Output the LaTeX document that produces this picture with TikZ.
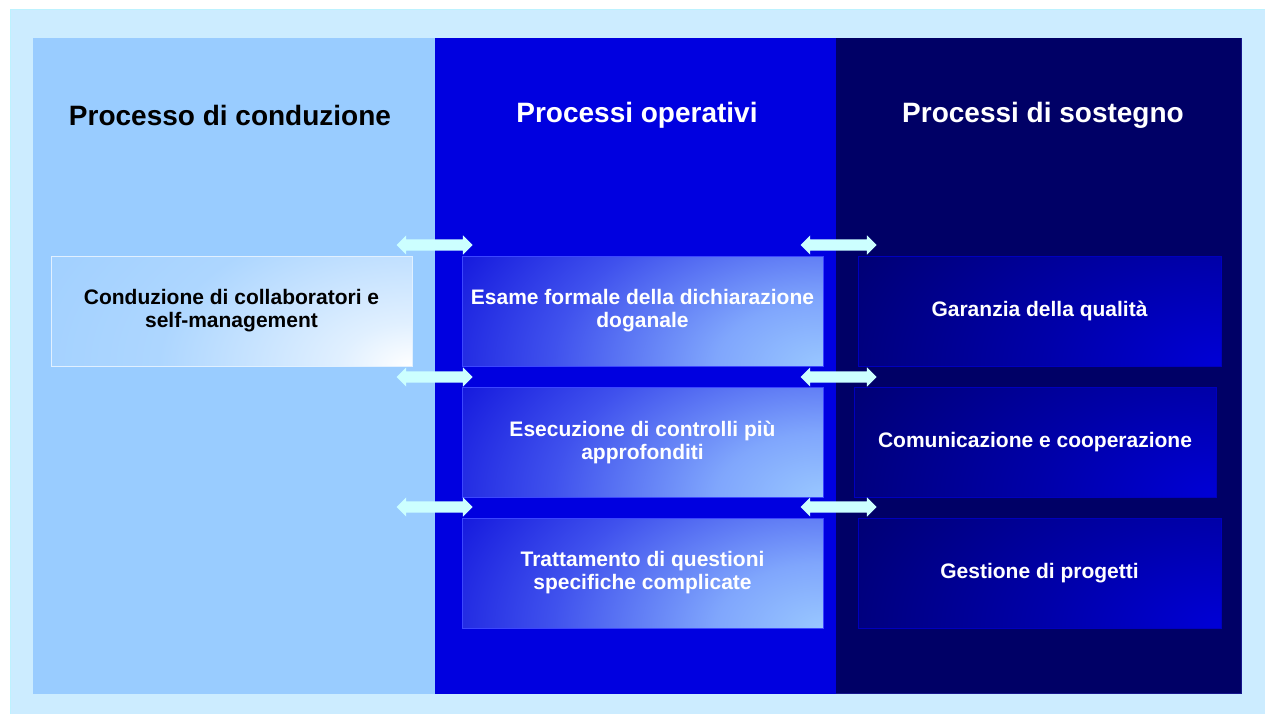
\documentclass[tikz,border=0pt]{standalone}
\usepackage{fontspec}
\setmainfont{Liberation Sans}
\usetikzlibrary{shapes.arrows}

\definecolor{framefill}{HTML}{CCECFF}
\definecolor{frameedge}{HTML}{BDF2FF}
\definecolor{leadpanel}{HTML}{99CCFF}
\definecolor{oppanel}{RGB}{0,0,224}
\definecolor{suppanel}{RGB}{0,0,102}
\definecolor{supedge}{RGB}{22,22,140}
\definecolor{arrowcyan}{HTML}{CCFFFF}
\definecolor{opline}{RGB}{60,70,255}
\definecolor{supline}{RGB}{0,0,190}
\definecolor{leadline}{RGB}{225,240,255}

% corner glows of the process boxes (light spot in the lower right corner)
\pgfdeclareradialshading{leadglow}{\pgfpointorigin}{%
  rgb(0bp)=(1,1,1); rgb(4bp)=(0.88,0.94,1); rgb(14bp)=(0.68,0.84,1);
  rgb(25bp)=(0.62,0.81,1); rgb(50bp)=(0.62,0.81,1)}
\pgfdeclareradialshading{opglow}{\pgfpointorigin}{%
  rgb(0bp)=(0.6,0.78,1); rgb(6bp)=(0.5,0.65,0.99); rgb(15bp)=(0.25,0.32,0.93);
  rgb(25bp)=(0.03,0.03,0.85); rgb(50bp)=(0.03,0.03,0.85)}
\pgfdeclareradialshading{supglow}{\pgfpointorigin}{%
  rgb(0bp)=(0,0,0.84); rgb(10bp)=(0,0,0.66); rgb(25bp)=(0,0,0.42);
  rgb(50bp)=(0,0,0.42)}

\tikzset{
  paneltitle/.style={font=\bfseries\fontsize{28}{32}\selectfont, anchor=center, inner sep=0pt},
  procbox/.style={minimum width=361pt, minimum height=110pt, align=center, inner sep=2pt, outer sep=0pt,
    line width=1pt, font=\bfseries\fontsize{21}{23}\selectfont},
  glow/.style={path picture={
      \shade[shading=#1]
        (path picture bounding box.south east) ellipse [x radius=450pt, y radius=270pt];}},
  leadbox/.style={procbox, draw=leadline, text=black, glow=leadglow},
  opbox/.style={procbox, draw=opline, text=white, glow=opglow},
  supbox/.style={procbox, draw=supline, text=white, glow=supglow},
  linkarrow/.style={double arrow, fill=arrowcyan, draw=none, minimum height=76pt,
    inner xsep=0pt, inner ysep=5.5pt, double arrow head extend=4pt, outer sep=0pt}
}

\begin{document}
\begin{tikzpicture}[x=1pt, y=-1pt]
\useasboundingbox (0,0) rectangle (1265,714);

% outer frame
\fill[framefill] (10,9) rectangle (1265,714);
\draw[frameedge, line width=1pt] (10.5,714) -- (10.5,9.5) -- (1265,9.5);

% the three process columns
\fill[leadpanel] (33,38) rectangle (435,694);
\fill[oppanel] (435,38) rectangle (836,694);
\fill[suppanel] (836,38) rectangle (1242,694);
\draw[supedge, line width=1.5pt] (836,693.5) -- (1241.5,693.5) -- (1241.5,38);

% column headings
\node[paneltitle, text=black] (t1) at (230,115) {Processo di conduzione};
\node[paneltitle, text=white] (t2) at (637,115) {Processi operativi};
\node[paneltitle, text=white] (t3) at (1043,115) {Processi di sostegno};

% leading process
\node[leadbox] (l1) at (231.5,311) {Conduzione di collaboratori e\\self-management};

% operative processes
\node[opbox] (o1) at (642.5,311) {Esame formale della dichiarazione\\doganale};
\node[opbox] (o2) at (642.5,442) {Esecuzione di controlli più\\approfonditi};
\node[opbox] (o3) at (642.5,573) {Trattamento di questioni\\specifiche complicate};

% support processes
\node[supbox, minimum width=363pt] (s1) at (1039.5,311) {Garanzia della qualità};
\node[supbox, minimum width=362pt] (s2) at (1035,442) {Comunicazione e cooperazione};
\node[supbox, minimum width=363pt] (s3) at (1039.5,573) {Gestione di progetti};

% exchange arrows between the columns
\node[linkarrow] (a1) at (434.5,245) {};
\node[linkarrow] (a2) at (434.5,377) {};
\node[linkarrow] (a3) at (434.5,507) {};
\node[linkarrow] (b1) at (838.5,245) {};
\node[linkarrow] (b2) at (838.5,377) {};
\node[linkarrow] (b3) at (838.5,507) {};
\end{tikzpicture}
\end{document}
